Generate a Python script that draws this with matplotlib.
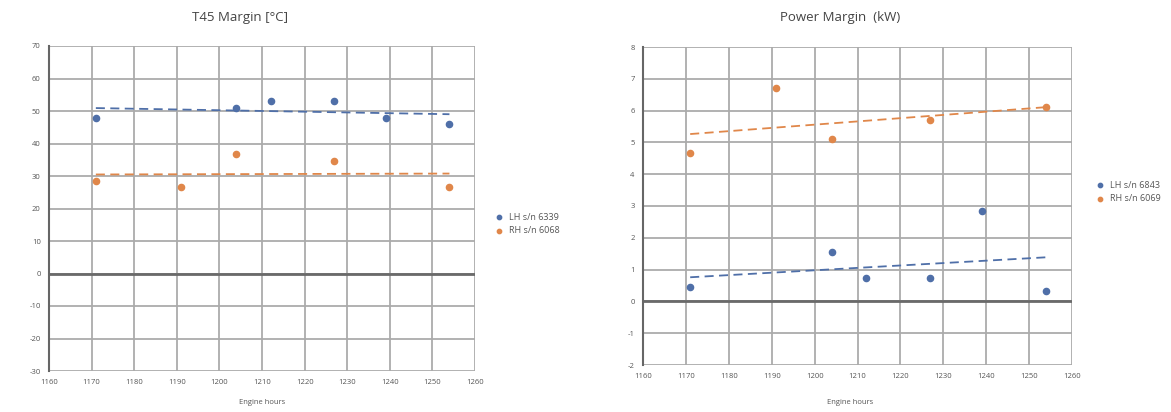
import numpy as np
import matplotlib
matplotlib.use("Agg")
import matplotlib.pyplot as plt

plt.rcParams['font.family'] = ['Open Sans', 'DejaVu Sans']
plt.rcParams['axes.unicode_minus'] = False

# ---- data ----
hours_lh = [1171, 1204, 1212, 1227, 1239, 1254]
hours_rh = [1171, 1191, 1204, 1227, 1254]

t45_lh = [48, 51, 53, 53, 48, 46]
t45_rh = [28.6, 26.5, 36.7, 34.5, 26.7]

pwr_lh = [0.45, 1.55, 0.75, 0.75, 2.85, 0.33]
pwr_rh = [4.67, 6.7, 5.1, 5.7, 6.1]

left_labels = ["LH s/n 6339", "RH s/n 6068"]
right_labels = ["LH s/n 6843", "RH s/n 6069"]

x_ticks = list(range(1160, 1261, 10))
t45_yticks = list(range(-30, 71, 10))
pwr_yticks = list(range(-2, 9, 1))

BLUE = "#4f6fa8"
ORANGE = "#e0874a"
GRID = "#ababab"

fig = plt.figure(figsize=(11.71, 4.12), dpi=100)
W, H = 1171, 412

def make_axes(px0, py0, px1, py1):
    return fig.add_axes([px0 / W, 1 - py1 / H, (px1 - px0) / W, (py1 - py0) / H])

def style(ax, yticks):
    ax.set_xlim(x_ticks[0], x_ticks[-1])
    ax.set_ylim(yticks[0], yticks[-1])
    ax.set_xticks(x_ticks)
    ax.set_yticks(yticks)
    ax.grid(True, color=GRID, linewidth=1.3)
    ax.set_axisbelow(True)
    for s in ["top", "right", "bottom"]:
        ax.spines[s].set_visible(False)
    ax.spines["left"].set_color("#666666")
    ax.spines["left"].set_linewidth(1.5)
    ax.tick_params(axis="both", length=0, labelsize=5.5, colors="#555555", pad=6)
    ax.axhline(0, color="#6a6a6a", linewidth=2.0, zorder=1)

def trend(ax, x, y, color):
    x = np.asarray(x, float); y = np.asarray(y, float)
    k, b = np.polyfit(x, y, 1)
    xs = np.array([x.min(), x.max()])
    ax.plot(xs, k * xs + b, linestyle=(0, (5, 3)), color=color, linewidth=1.3, zorder=2)

# ---- left chart ----
ax1 = make_axes(49, 46, 475, 371)
style(ax1, t45_yticks)
h1 = ax1.scatter(hours_lh, t45_lh, s=20, color=BLUE, zorder=3, label=left_labels[0])
h2 = ax1.scatter(hours_rh, t45_rh, s=20, color=ORANGE, zorder=3, label=left_labels[1])
trend(ax1, hours_lh, t45_lh, BLUE)
trend(ax1, hours_rh, t45_rh, ORANGE)
fig.text(240 / W, 1 - 18 / H, "T45 Margin [°C]", ha="center", va="center", fontsize=9.5, color="#444444")
fig.text(262 / W, 1 - 403 / H, "Engine hours", ha="center", va="center", fontsize=5.5, color="#555555")
fig.legend(handles=[h1, h2], labels=left_labels, loc="center left",
           bbox_to_anchor=(486 / W, 1 - 224 / H), frameon=False, fontsize=6.5,
           handletextpad=0.2, markerscale=0.7, labelcolor="#555555", borderaxespad=0)

# ---- right chart ----
ax2 = make_axes(643, 47, 1072, 365)
style(ax2, pwr_yticks)
g1 = ax2.scatter(hours_lh, pwr_lh, s=20, color=BLUE, zorder=3, label=right_labels[0])
g2 = ax2.scatter(hours_rh, pwr_rh, s=20, color=ORANGE, zorder=3, label=right_labels[1])
trend(ax2, hours_lh, pwr_lh, BLUE)
trend(ax2, hours_rh, pwr_rh, ORANGE)
fig.text(840 / W, 1 - 18 / H, "Power Margin  (kW)", ha="center", va="center", fontsize=9.5, color="#444444")
fig.text(850 / W, 1 - 402 / H, "Engine hours", ha="center", va="center", fontsize=5.5, color="#555555")
fig.legend(handles=[g1, g2], labels=right_labels, loc="center left",
           bbox_to_anchor=(1087 / W, 1 - 192 / H), frameon=False, fontsize=6.5,
           handletextpad=0.2, markerscale=0.7, labelcolor="#555555", borderaxespad=0)

fig.savefig("out.png", dpi=100)
